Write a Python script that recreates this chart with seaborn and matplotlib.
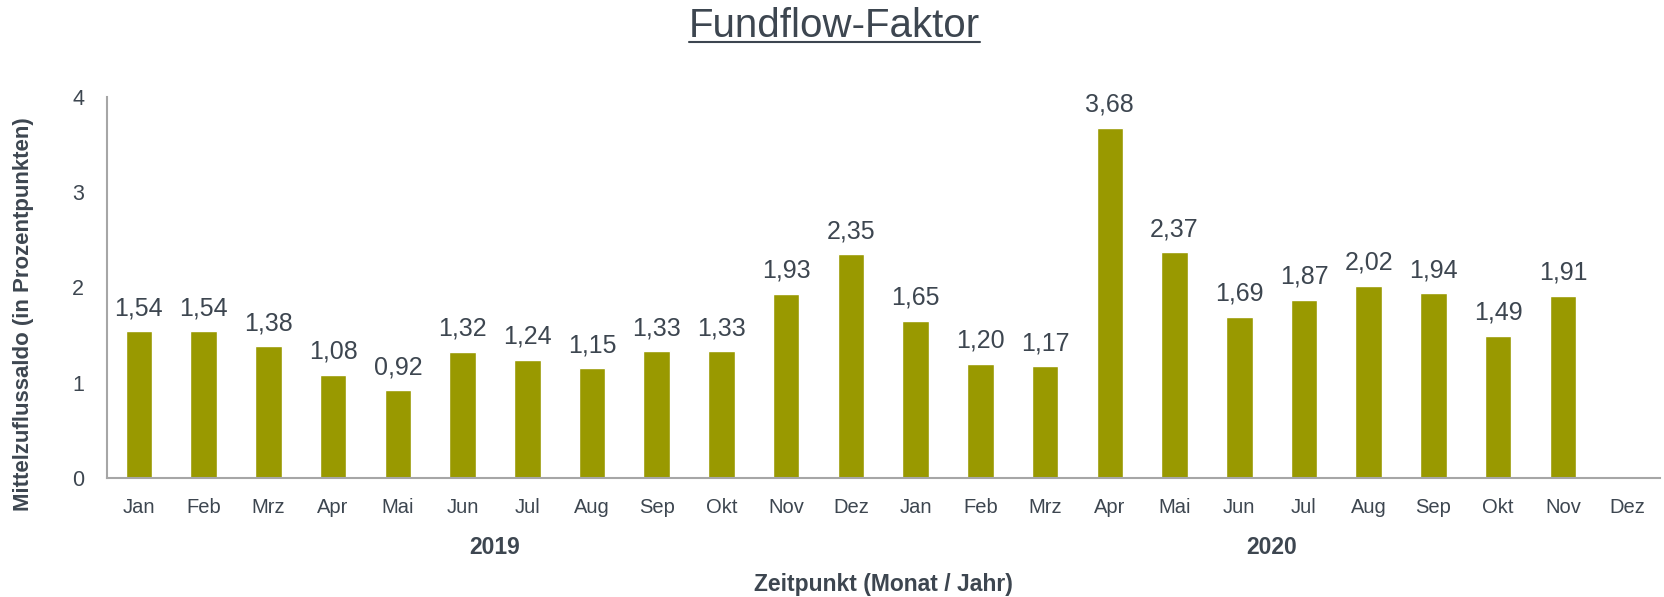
import matplotlib
matplotlib.use('Agg')
import matplotlib.pyplot as plt
import numpy as np
import pandas as pd
import seaborn as sns

months = ['Jan', 'Feb', 'Mrz', 'Apr', 'Mai', 'Jun', 'Jul', 'Aug', 'Sep', 'Okt', 'Nov', 'Dez']
years = ['2019', '2020']
werte_2019 = [1.54, 1.54, 1.38, 1.08, 0.92, 1.32, 1.24, 1.15, 1.33, 1.33, 1.93, 2.35]
werte_2020 = [1.65, 1.20, 1.17, 3.68, 2.37, 1.69, 1.87, 2.02, 1.94, 1.49, 1.91, np.nan]

sns.set_theme(style='white')
plt.rcParams['font.family'] = ['Liberation Sans', 'DejaVu Sans']

txt = '#3d4650'
bar_col = '#999900'
grey = '#a6a6a6'

df = pd.DataFrame({
    'zeit': [f'{m} {y}' for y in years for m in months],
    'monat': months * 2,
    'wert': werte_2019 + werte_2020,
})

fig, ax = plt.subplots(figsize=(16.65, 5.97), dpi=100)
fig.subplots_adjust(left=0.064, right=0.997, top=0.837, bottom=0.2)

sns.barplot(data=df, x='zeit', y='wert', color=bar_col, width=0.41, saturation=1, ax=ax)

for i, v in enumerate(df['wert']):
    if not np.isnan(v):
        ax.annotate(f'{v:.2f}'.replace('.', ','), (i, v), xytext=(0, 8), textcoords='offset points',
                    ha='center', va='bottom', fontsize=18, color=txt)

ax.set_xlim(-0.5, len(df) - 0.5)
ax.set_ylim(0, 4)
ax.set_yticks([0, 1, 2, 3, 4])
ax.set_xticks(range(len(df)))
ax.set_xticklabels(df['monat'])
ax.set_xticks(np.arange(-0.5, len(df), 1), minor=True)
ax.tick_params(axis='x', which='major', length=0, pad=15, labelsize=14.5, colors=txt)
ax.tick_params(axis='x', which='minor', length=7, width=1.2, color=grey, direction='out')
ax.tick_params(axis='y', length=7, width=1.2, color=grey, labelsize=15.5, labelcolor=txt, pad=9)
ax.tick_params(axis='x', labelcolor=txt)

for s in ['top', 'right']:
    ax.spines[s].set_visible(False)
for s in ['left', 'bottom']:
    ax.spines[s].set_color(grey)
    ax.spines[s].set_linewidth(1.5)

ax.set_xlabel('')
ax.set_ylabel('Mittelzuflussaldo (in Prozentpunkten)', fontsize=16, fontweight='bold', color=txt)
ax.yaxis.set_label_coords(-0.047, 0.43)

for k, y in enumerate(years):
    ax.text(k * 12 + 5.5, -0.185, y, transform=ax.get_xaxis_transform(), ha='center', va='center',
            fontsize=16.5, fontweight='bold', color=txt)
ax.text(0.5, -0.28, 'Zeitpunkt (Monat / Jahr)', transform=ax.transAxes, ha='center', va='center',
        fontsize=16.5, fontweight='bold', color=txt)

t = fig.text(0.501, 0.957, 'Fundflow-Faktor', ha='center', va='center', fontsize=29, color=txt)
fig.canvas.draw()
bb = t.get_window_extent().transformed(fig.transFigure.inverted())
fig.add_artist(plt.Line2D([bb.x0, bb.x1], [bb.y0 + 0.004, bb.y0 + 0.004], color=txt, lw=1.5,
                          transform=fig.transFigure))

fig.savefig('out.png', dpi=100)
